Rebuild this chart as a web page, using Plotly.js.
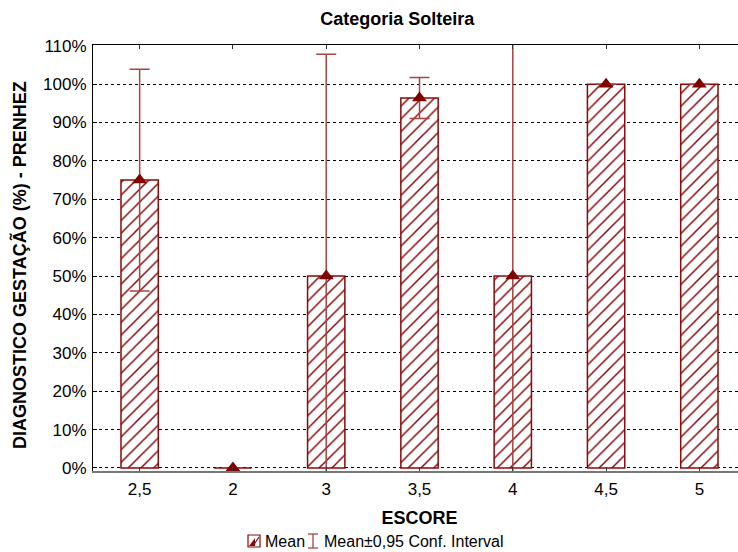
<!DOCTYPE html>
<html>
<head>
<meta charset="utf-8">
<script src="https://cdn.plot.ly/plotly-3.0.1.min.js"></script>
<style>
html,body{margin:0;padding:0;overflow:hidden;background:#fff;width:738px;height:552px;}
#chart{width:746px;height:552px;}
</style>
</head>
<body>
<div id="chart"></div>
<script>
const categories = ['2,5', '2', '3', '3,5', '4', '4,5', '5'];
const meanValues = [75, 0, 50, 96.4, 50, 100, 100];
const ciHalfWidth = [28.9, 0, 57.8, 5.35, 600, 0, 0];
const legendLabels = ['Mean', 'Mean±0,95 Conf. Interval'];

const red = '#8b0a0a';
const errColor = '#a94444';
const font = 'Liberation Sans, Arial, sans-serif';

const W = 746, H = 552, ML = 93, MR = 0, MT = 45, MB = 81;
const px = (x) => (x - ML) / (W - ML - MR);
const py = (y) => (H - MB - y) / (H - MT - MB);

const bars = {
  type: 'bar',
  x: categories,
  y: meanValues,
  width: 0.4,
  name: legendLabels[0],
  showlegend: false,
  marker: {
    color: '#ffffff',
    line: {color: red, width: 1.5},
    pattern: {shape: '/', fgcolor: red, bgcolor: '#ffffff', size: 9, solidity: 0.17}
  },
  error_y: {type: 'data', array: ciHalfWidth, visible: true, color: errColor, thickness: 1.5, width: 10},
  hoverinfo: 'x+y'
};

const means = {
  type: 'scatter',
  mode: 'markers',
  x: categories,
  y: meanValues,
  marker: {symbol: 'triangle-up', size: 13, color: '#800000'},
  showlegend: false,
  cliponaxis: true
};

const topAxisTrace = {
  type: 'scatter', mode: 'markers', x: categories, y: meanValues.map(() => null),
  xaxis: 'x2', showlegend: false, hoverinfo: 'skip'
};

// legend icons (decoration, in pixel positions converted to paper)
const shapes = [
  {type: 'rect', xref: 'paper', yref: 'paper', x0: px(248), x1: px(260), y0: py(547), y1: py(535),
   line: {color: red, width: 1.2}, fillcolor: '#fff'},
  {type: 'path', xref: 'paper', yref: 'paper',
   path: `M ${px(249)} ${py(546)} L ${px(255)} ${py(546)} L ${px(255)} ${py(538)} Z`,
   line: {width: 0}, fillcolor: red},
  {type: 'line', xref: 'paper', yref: 'paper', x0: px(253), x1: px(259), y0: py(546), y1: py(537),
   line: {color: red, width: 1.2}},
  {type: 'line', xref: 'paper', yref: 'paper', x0: px(313), x1: px(313), y0: py(534), y1: py(548),
   line: {color: errColor, width: 1.3}},
  {type: 'line', xref: 'paper', yref: 'paper', x0: px(308), x1: px(318), y0: py(534), y1: py(534),
   line: {color: errColor, width: 1.3}},
  {type: 'line', xref: 'paper', yref: 'paper', x0: px(308), x1: px(318), y0: py(548), y1: py(548),
   line: {color: errColor, width: 1.3}}
];

const annotations = [
  {text: legendLabels[0], xref: 'paper', yref: 'paper', x: px(263), y: py(541), xanchor: 'left', yanchor: 'middle',
   showarrow: false, font: {family: font, size: 16, color: '#000'}},
  {text: legendLabels[1], xref: 'paper', yref: 'paper', x: px(322), y: py(541), xanchor: 'left', yanchor: 'middle',
   showarrow: false, font: {family: font, size: 16, color: '#000'}},
  {text: '<b>DIAGNOSTICO GESTAÇÃO (%) - PRENHEZ</b>', xref: 'paper', yref: 'paper', x: px(19), y: py(265),
   xanchor: 'center', yanchor: 'middle', textangle: -90, showarrow: false,
   font: {family: font, size: 18, color: '#000'}}
];

const layout = {
  width: W,
  height: H,
  margin: {l: ML, r: MR, t: MT, b: MB},
  paper_bgcolor: '#ffffff',
  plot_bgcolor: '#ffffff',
  font: {family: font, size: 17, color: '#000'},
  title: {
    text: '<b>Categoria Solteira</b>',
    font: {family: font, size: 18, color: '#000'},
    x: 0.466, xref: 'paper', xanchor: 'center',
    y: 1, yref: 'container', yanchor: 'top', pad: {t: 12}
  },
  showlegend: false,
  shapes: shapes,
  annotations: annotations,
  xaxis: {
    type: 'category',
    range: [-0.5, 6.5],
    showgrid: false,
    zeroline: false,
    showline: true,
    linecolor: '#777',
    linewidth: 2,
    ticks: 'inside',
    ticklen: 4,
    tickcolor: '#333',
    ticklabelstandoff: 2,
    tickfont: {family: font, size: 17},
    title: {text: '<b>ESCORE</b>', font: {family: font, size: 18}, standoff: 13}
  },
  xaxis2: {
    overlaying: 'x',
    side: 'top',
    type: 'category',
    range: [-0.5, 6.5],
    matches: 'x',
    showline: true,
    linecolor: '#000',
    linewidth: 1.5,
    ticks: 'inside',
    ticklen: 4,
    tickcolor: '#333',
    showticklabels: false,
    showgrid: false,
    zeroline: false
  },
  yaxis: {
    range: [-0.8, 110.2],
    dtick: 10,
    tick0: 0,
    ticksuffix: '%',
    showgrid: true,
    gridcolor: '#000',
    gridwidth: 1,
    griddash: 'dot',
    zeroline: false,
    showline: true,
    linecolor: '#000',
    linewidth: 1,
    ticks: 'inside',
    ticklen: 4,
    tickcolor: '#000',
    ticklabelstandoff: 2,
    tickfont: {family: font, size: 17}
  }
};

Plotly.newPlot('chart', [bars, means, topAxisTrace], layout, {displayModeBar: false, staticPlot: true});
</script>
</body>
</html>
